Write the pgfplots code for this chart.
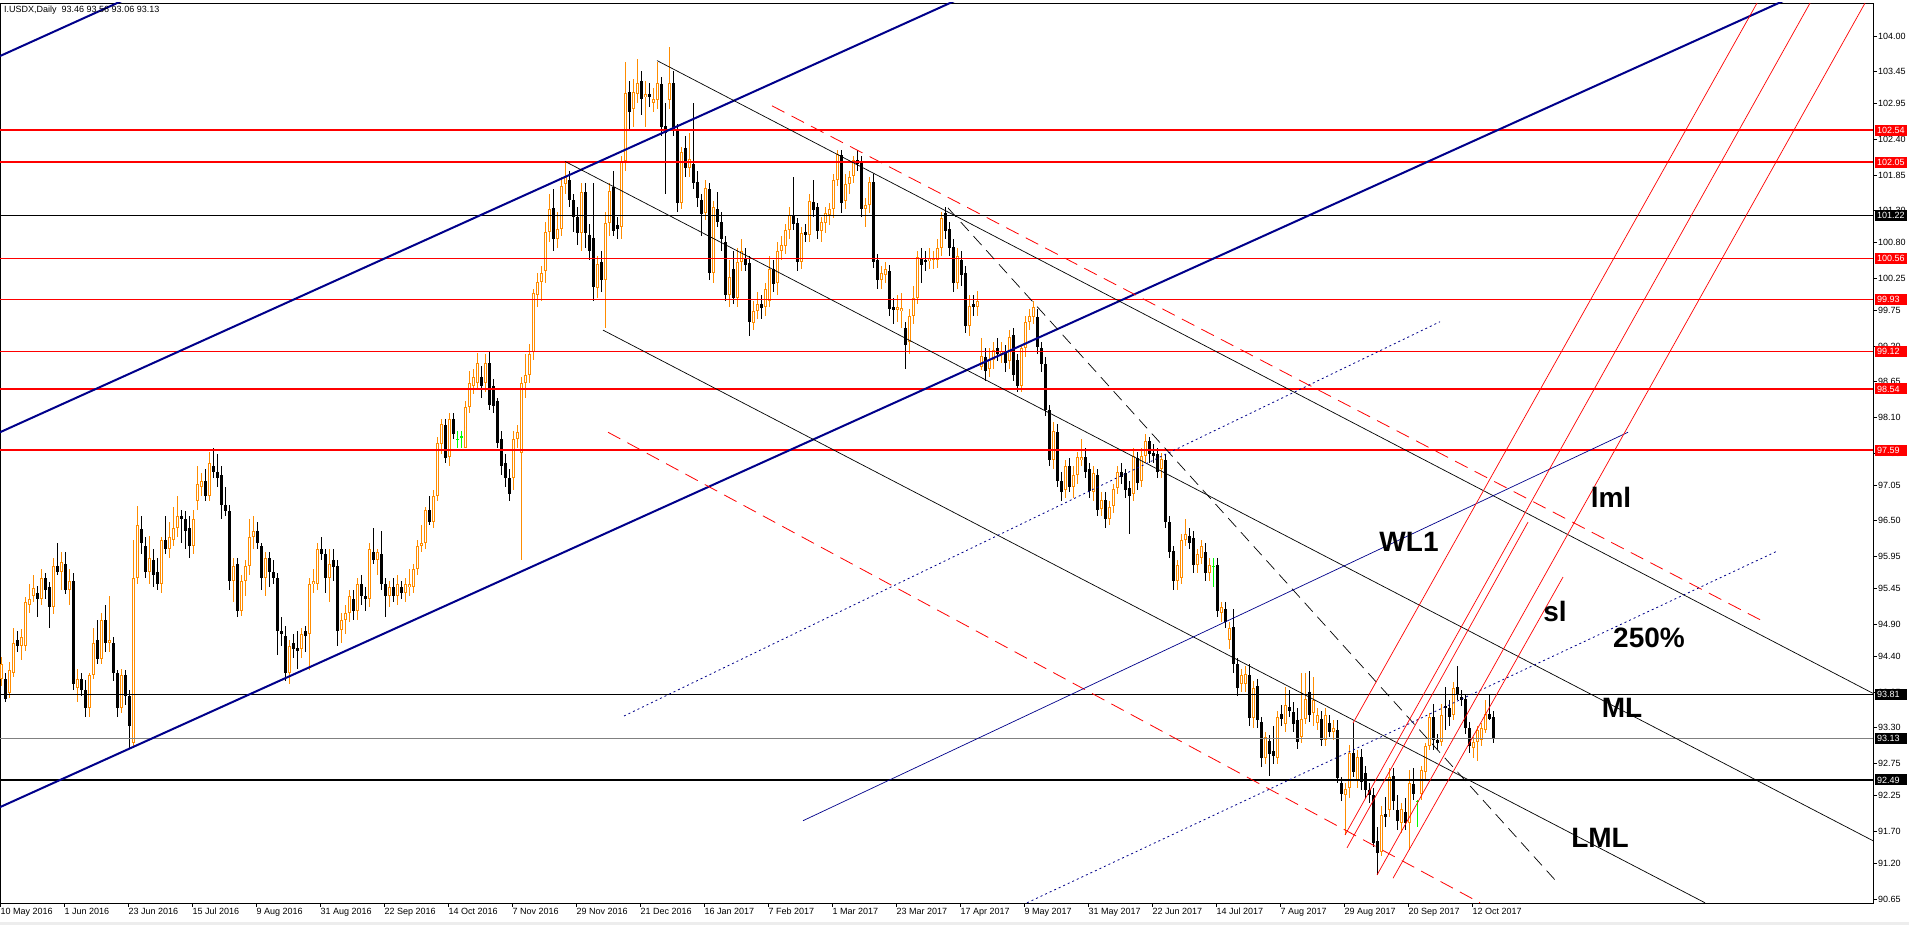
\documentclass[border=0pt]{standalone}
\usepackage{fontspec}
\setmainfont{Liberation Sans}
\usepackage{pgfplots}
\usepackage{pgfplotstable}
\pgfplotsset{compat=1.18}
\definecolor{up}{HTML}{FF8C00}
\definecolor{navy}{HTML}{00008B}
\definecolor{doji}{HTML}{00FF00}
\definecolor{curgray}{HTML}{808080}

\pgfplotstableread{
i o h l c
0 94.06 94.40 93.95 94.29
1 94.06 94.15 93.69 93.74
2 93.83 94.31 93.76 94.20
3 94.15 94.84 94.08 94.61
4 94.66 94.79 94.47 94.56
5 94.56 94.83 94.35 94.70
6 94.56 95.32 94.49 95.25
7 95.20 95.52 95.08 95.29
8 95.34 95.66 95.25 95.46
9 95.38 95.50 95.02 95.29
10 95.29 95.75 95.20 95.61
11 95.61 95.70 95.29 95.43
12 95.47 95.55 94.84 95.16
13 95.16 95.93 95.06 95.80
14 95.80 96.16 95.66 95.71
15 95.71 96.02 95.43 95.87
16 95.84 96.02 95.36 95.43
17 95.43 95.75 95.20 95.57
18 95.57 95.70 93.88 93.97
19 93.92 94.20 93.70 94.06
20 94.06 94.15 93.79 93.88
21 93.88 94.03 93.47 93.61
22 93.61 94.15 93.47 94.11
23 94.11 94.84 94.06 94.61
24 94.66 94.97 94.29 94.36
25 94.36 95.07 94.29 94.97
26 94.97 95.20 94.47 94.61
27 94.61 95.34 94.47 94.66
28 94.61 94.70 94.02 94.15
29 94.15 94.20 93.47 93.61
30 93.61 94.20 93.52 94.11
31 94.11 94.20 93.65 93.79
32 93.79 93.88 92.98 93.33
33 93.06 96.20 92.98 95.61
34 95.61 96.73 95.52 96.43
35 96.38 96.57 95.98 96.16
36 96.11 96.25 95.61 95.71
37 95.71 96.27 95.52 95.93
38 95.89 96.07 95.47 95.66
39 95.71 95.93 95.43 95.52
40 95.52 96.25 95.38 96.20
41 96.20 96.57 95.98 96.07
42 96.07 96.48 95.93 96.25
43 96.20 96.71 96.11 96.39
44 96.39 96.89 96.25 96.57
45 96.57 96.66 96.16 96.53
46 96.53 96.66 96.07 96.34
47 96.39 96.57 95.93 96.11
48 96.11 96.66 95.98 96.53
49 96.80 97.35 96.66 97.07
50 97.03 97.24 96.89 97.12
51 97.12 97.30 96.80 96.89
52 96.89 97.57 96.80 97.39
53 97.35 97.62 97.16 97.26
54 97.26 97.53 97.03 97.16
55 97.21 97.35 96.53 96.75
56 96.75 97.03 96.57 96.66
57 96.66 96.75 95.43 95.57
58 95.57 95.93 95.25 95.80
59 95.84 95.93 95.02 95.11
60 95.11 95.66 95.02 95.57
61 95.57 95.89 95.34 95.80
62 95.80 96.53 95.66 96.25
63 96.25 96.57 96.07 96.34
64 96.34 96.48 96.07 96.16
65 96.11 96.16 95.43 95.61
66 95.61 96.02 95.34 95.93
67 95.93 96.02 95.47 95.71
68 95.71 95.89 95.52 95.61
69 95.61 95.70 94.43 94.79
70 94.79 95.02 94.56 94.75
71 94.72 94.88 94.02 94.15
72 94.15 94.65 93.98 94.56
73 94.61 94.75 94.38 94.52
74 94.54 94.79 94.20 94.49
75 94.52 94.84 94.38 94.75
76 94.79 94.88 94.47 94.72
77 94.75 95.61 94.20 95.52
78 95.52 95.75 95.38 95.57
79 95.52 96.16 95.43 96.07
80 96.07 96.25 95.89 95.98
81 95.98 96.07 95.38 95.61
82 95.61 96.07 95.25 95.84
83 95.89 96.07 95.57 95.78
84 95.80 95.89 94.56 94.79
85 94.81 95.07 94.61 94.97
86 94.97 95.20 94.75 95.07
87 95.07 95.43 94.93 95.34
88 95.29 95.43 94.97 95.11
89 95.11 95.61 94.97 95.52
90 95.52 95.66 95.20 95.34
91 95.34 95.47 95.11 95.29
92 95.29 96.16 95.16 96.07
93 96.02 96.39 95.84 95.89
94 95.89 96.07 95.66 96.02
95 95.98 96.34 95.43 95.52
96 95.52 95.61 95.02 95.34
97 95.34 95.57 95.16 95.48
98 95.48 95.61 95.25 95.34
99 95.34 95.66 95.20 95.52
100 95.48 95.57 95.29 95.38
101 95.38 95.61 95.25 95.52
102 95.48 95.75 95.34 95.52
103 95.48 95.84 95.38 95.75
104 95.75 96.20 95.66 96.11
105 96.11 96.43 96.02 96.16
106 96.16 96.71 96.07 96.66
107 96.66 96.89 96.43 96.48
108 96.48 96.98 96.39 96.89
109 96.89 97.80 96.80 97.71
110 97.69 98.08 97.53 98.00
111 97.99 98.08 97.39 97.48
112 97.48 98.17 97.35 98.08
113 98.08 98.17 97.76 97.85
114 97.76 97.89 97.62 97.76
115 97.80 97.89 97.62 97.80
116 97.62 98.35 97.62 98.26
117 98.26 98.81 98.17 98.63
118 98.58 98.85 98.47 98.72
119 98.63 99.10 98.53 98.94
120 98.72 98.90 98.40 98.58
121 98.63 99.08 98.49 98.94
122 98.94 99.11 98.21 98.30
123 98.58 98.70 98.17 98.28
124 98.35 98.40 97.62 97.71
125 97.76 97.89 97.21 97.35
126 97.39 97.53 97.03 97.16
127 97.16 97.30 96.80 96.91
128 97.16 97.89 96.98 97.76
129 97.76 97.99 97.62 97.88
130 97.55 98.72 95.89 98.63
131 98.63 99.08 98.40 98.75
132 98.76 99.24 98.63 99.08
133 99.11 100.08 98.99 100.02
134 100.00 100.34 99.81 100.19
135 100.19 100.45 99.90 100.34
136 100.36 101.13 100.18 100.97
137 100.97 101.55 100.81 101.32
138 101.34 101.64 100.68 100.86
139 100.86 101.27 100.72 101.02
140 101.02 101.82 100.91 101.68
141 101.71 102.06 101.55 101.82
142 101.77 101.91 101.36 101.47
143 101.47 101.55 100.97 101.20
144 101.20 101.36 100.77 100.95
145 100.95 101.73 100.68 101.59
146 101.59 101.73 100.72 100.95
147 100.93 101.09 100.54 100.68
148 100.87 101.73 99.90 100.11
149 100.11 100.59 99.95 100.48
150 100.50 100.68 100.04 100.22
151 100.22 101.27 99.49 101.11
152 101.11 101.73 100.91 101.61
153 101.66 101.91 100.91 100.99
154 101.07 101.20 100.86 101.02
155 101.04 102.14 100.86 102.06
156 102.06 103.60 101.91 103.12
157 103.14 103.30 102.55 102.82
158 102.87 103.33 102.59 103.14
159 103.10 103.64 102.96 103.28
160 103.30 103.46 102.78 103.02
161 103.05 103.30 102.59 103.10
162 103.10 103.28 102.91 103.05
163 102.96 103.19 102.82 103.02
164 103.01 103.60 102.87 103.28
165 103.26 103.37 102.46 102.59
166 102.61 102.96 101.55 102.50
167 103.01 103.83 102.87 103.28
168 103.28 103.46 102.46 102.55
169 102.55 102.64 101.27 101.41
170 101.41 102.28 101.32 102.20
171 102.27 102.46 101.82 101.96
172 101.96 102.50 101.82 102.09
173 102.02 102.96 101.64 101.73
174 101.75 101.91 101.36 101.50
175 101.47 101.55 100.91 101.25
176 101.27 101.77 101.16 101.65
177 101.64 101.73 100.22 100.34
178 100.34 101.45 100.18 101.36
179 101.33 101.59 101.04 101.13
180 101.12 101.27 100.68 100.86
181 100.81 100.91 99.90 99.99
182 99.99 100.54 99.81 100.27
183 100.40 100.68 99.86 99.95
184 99.95 100.72 99.81 100.50
185 100.50 100.86 100.36 100.68
186 100.57 100.72 100.36 100.45
187 100.49 100.59 99.36 99.58
188 99.56 99.90 99.45 99.74
189 99.74 100.04 99.63 99.85
190 99.85 100.00 99.63 99.79
191 99.81 100.18 99.67 100.08
192 99.90 100.59 99.81 100.40
193 100.40 100.54 100.04 100.16
194 100.18 100.82 99.99 100.68
195 100.68 100.91 100.54 100.77
196 100.76 101.09 100.63 101.00
197 101.00 101.36 100.86 101.23
198 101.23 101.82 101.00 101.09
199 101.11 101.18 100.36 100.50
200 100.50 101.04 100.40 100.95
201 100.97 101.09 100.81 100.92
202 100.92 101.55 100.82 101.45
203 101.43 101.77 101.20 101.31
204 101.36 101.41 100.86 100.98
205 100.98 101.20 100.82 101.13
206 101.11 101.36 100.95 101.27
207 101.23 101.41 101.07 101.32
208 101.32 101.86 101.18 101.77
209 101.77 102.23 101.68 102.17
210 102.16 102.23 101.27 101.41
211 101.45 101.86 101.32 101.71
212 101.71 101.91 101.55 101.82
213 101.84 102.14 101.73 102.09
214 102.08 102.23 101.91 102.02
215 102.05 102.14 101.20 101.32
216 101.32 101.50 101.04 101.38
217 101.38 101.82 101.27 101.75
218 101.75 101.86 100.41 100.51
219 100.54 100.63 100.09 100.22
220 100.22 100.45 100.09 100.34
221 100.31 100.50 100.18 100.40
222 100.36 100.45 99.67 99.78
223 99.81 99.95 99.54 99.76
224 99.76 99.99 99.58 99.81
225 99.74 100.02 99.49 99.79
226 99.49 99.58 98.85 99.22
227 99.26 99.77 99.08 99.67
228 99.67 100.13 99.54 99.95
229 99.95 100.68 99.86 100.58
230 100.57 100.72 100.18 100.45
231 100.54 100.68 100.36 100.51
232 100.52 100.72 100.40 100.56
233 100.54 100.68 100.40 100.56
234 100.54 100.86 100.41 100.72
235 100.72 101.27 100.59 101.18
236 101.27 101.36 100.86 100.99
237 101.01 101.13 100.59 100.72
238 100.74 100.86 100.04 100.18
239 100.18 100.72 100.09 100.59
240 100.54 100.68 100.13 100.31
241 100.33 100.45 99.40 99.51
242 99.51 99.99 99.36 99.83
243 99.86 99.99 99.67 99.81
244 99.81 100.06 99.67 99.90
245 98.88 99.33 98.83 99.05
246 99.03 99.17 98.67 98.81
247 98.85 99.17 98.72 98.99
248 98.99 99.26 98.85 99.15
249 99.17 99.33 98.97 99.08
250 99.08 99.26 98.94 99.13
251 99.11 99.22 98.81 98.94
252 98.97 99.45 98.85 99.35
253 99.37 99.49 98.67 98.76
254 98.99 99.08 98.49 98.58
255 98.58 99.22 98.49 99.17
256 99.17 99.67 99.04 99.58
257 99.58 99.77 99.45 99.67
258 99.65 99.90 99.54 99.81
259 99.66 99.77 99.08 99.19
260 99.17 99.26 98.81 98.92
261 98.92 99.04 98.12 98.21
262 98.21 98.30 97.35 97.44
263 97.44 98.03 97.30 97.89
264 97.88 97.99 97.03 97.12
265 97.12 97.26 96.80 96.94
266 96.98 97.44 96.85 97.35
267 97.35 97.48 96.94 97.03
268 97.03 97.35 96.85 97.21
269 97.21 97.57 97.07 97.48
270 97.44 97.76 97.35 97.48
271 97.48 97.62 97.16 97.26
272 97.30 97.39 96.85 96.96
273 96.94 97.35 96.80 97.24
274 97.21 97.30 96.57 96.66
275 96.69 96.94 96.57 96.82
276 96.82 96.94 96.39 96.53
277 96.53 96.80 96.43 96.71
278 96.73 97.07 96.62 97.00
279 97.00 97.35 96.91 97.26
280 97.26 97.39 97.07 97.18
281 97.24 97.30 96.85 96.98
282 97.01 97.12 96.30 96.89
283 96.91 97.62 96.80 97.51
284 97.47 97.57 96.98 97.09
285 97.12 97.62 97.03 97.51
286 97.51 97.85 97.39 97.73
287 97.73 97.80 97.39 97.53
288 97.55 97.69 97.39 97.51
289 97.53 97.62 97.16 97.26
290 97.30 97.55 97.16 97.46
291 97.44 97.53 96.39 96.48
292 96.48 96.57 95.93 96.02
293 96.04 96.11 95.43 95.57
294 95.57 95.89 95.43 95.81
295 95.61 96.30 95.52 96.21
296 96.21 96.53 96.11 96.30
297 96.27 96.39 96.07 96.16
298 96.23 96.34 95.70 95.81
299 95.81 96.07 95.70 95.98
300 95.93 96.20 95.84 96.11
301 96.02 96.16 95.57 95.69
302 95.69 95.93 95.57 95.81
303 95.80 95.93 95.47 95.80
304 95.81 95.93 95.02 95.11
305 95.08 95.25 94.93 95.17
306 95.13 95.25 94.84 94.93
307 94.65 94.93 94.52 94.84
308 94.86 95.13 94.15 94.29
309 94.29 94.38 93.79 93.92
310 93.97 94.20 93.85 94.12
311 93.97 94.25 93.85 94.13
312 94.12 94.29 93.33 93.45
313 93.45 94.02 93.29 93.92
314 93.95 94.06 93.29 93.42
315 93.38 93.47 92.69 92.83
316 92.83 93.24 92.74 93.15
317 93.10 93.19 92.56 92.89
318 92.94 93.33 92.74 92.86
319 92.83 93.56 92.74 93.47
320 93.51 93.65 93.33 93.44
321 93.35 93.93 93.24 93.65
322 93.62 93.88 93.47 93.56
323 93.54 93.70 93.24 93.35
324 93.42 93.61 92.97 93.08
325 93.16 94.14 93.06 93.43
326 93.44 94.14 93.36 93.75
327 93.85 94.17 93.39 93.49
328 93.52 94.09 93.32 93.73
329 93.37 93.60 93.26 93.50
330 93.44 93.55 93.01 93.11
331 93.11 93.60 93.01 93.50
332 93.37 93.50 93.16 93.24
333 93.24 93.42 93.11 93.29
334 93.26 93.42 92.44 92.52
335 92.44 92.54 92.16 92.28
336 92.26 92.44 91.64 92.35
337 92.36 93.03 92.21 92.91
338 92.91 93.37 92.54 92.62
339 92.49 92.95 92.36 92.84
340 92.85 92.97 92.34 92.46
341 92.60 92.70 92.21 92.34
342 92.34 92.44 92.13 92.26
343 92.26 92.36 91.46 91.51
344 91.54 91.77 91.02 91.36
345 91.38 92.08 91.31 91.95
346 91.96 92.23 91.77 91.92
347 92.03 92.67 91.92 92.54
348 92.55 92.67 92.03 92.17
349 92.03 92.26 91.72 91.85
350 91.82 92.13 91.67 92.04
351 92.00 92.21 91.72 91.82
352 91.82 92.64 91.41 92.44
353 92.43 92.67 92.18 92.28
354 92.16 92.18 91.77 92.16
355 92.28 92.70 92.18 92.64
356 92.62 93.06 92.49 93.01
357 93.01 93.52 92.95 93.47
358 93.47 93.67 92.95 93.11
359 93.11 93.21 92.95 93.07
360 93.08 93.67 93.01 93.50
361 93.63 93.93 93.26 93.61
362 93.60 93.73 93.32 93.46
363 93.50 94.01 93.42 93.91
364 93.93 94.25 93.73 93.81
365 93.78 93.88 93.63 93.73
366 93.74 93.80 93.21 93.29
367 93.29 93.39 92.91 93.01
368 92.98 93.16 92.83 93.08
369 93.08 93.32 92.78 93.26
370 93.11 93.37 93.01 93.29
371 93.27 93.73 93.21 93.51
372 93.51 93.80 93.42 93.44
373 93.46 93.56 93.06 93.13
}\candles

\pgfplotsset{
  cndl/.style={forget plot, only marks, mark=none, mark size=0pt,
    error bars/y dir=both, error bars/y explicit, error bars/error mark=none,
    error bars/error bar style={#1}},
  bull/.style={restrict expr to domain={\thisrow{c}-\thisrow{o}}{0.001:100}},
  bullin/.style={restrict expr to domain={\thisrow{c}-\thisrow{o}}{0.034:100}},
  bear/.style={restrict expr to domain={\thisrow{o}-\thisrow{c}}{0.001:100}},
  dojif/.style={restrict expr to domain={abs(\thisrow{c}-\thisrow{o})}{0:0.0009}},
}
\tikzset{
  box/.style={fill=#1, text=white, anchor=west, inner xsep=2bp, inner ysep=0pt,
    minimum height=11bp, text width=28bp, align=left,
    font=\fontsize{9bp}{10bp}\selectfont},
  lbl/.style={font=\fontsize{28bp}{30bp}\selectfont\bfseries, inner sep=0pt},
}

\begin{document}
\begin{tikzpicture}
\fill[white] (0,-22bp) rectangle (1909bp,903bp);
\fill[black!7] (0,-22bp) rectangle (1909bp,-19bp);
\useasboundingbox (0,-22bp) rectangle (1909bp,903bp);
\begin{axis}[at={(0,0)}, anchor=south west, scale only axis,
  width=1873bp, height=900bp,
  xmin=0, xmax=1873, ymin=90.587, ymax=104.511,
  clip mode=individual,
  axis line style={line width=0.8bp},
  tick style={line width=0.8bp, black},
  tick align=outside, major tick length=4bp,
  xtick pos=left, ytick pos=right,
  xticklabel pos=left, yticklabel pos=right,
  xtick={0,64,...,1472},
  xticklabels={10 May 2016,1 Jun 2016,23 Jun 2016,15 Jul 2016,9 Aug 2016,31 Aug 2016,22 Sep 2016,14 Oct 2016,7 Nov 2016,29 Nov 2016,21 Dec 2016,16 Jan 2017,7 Feb 2017,1 Mar 2017,23 Mar 2017,17 Apr 2017,9 May 2017,31 May 2017,22 Jun 2017,14 Jul 2017,7 Aug 2017,29 Aug 2017,20 Sep 2017,12 Oct 2017},
  xticklabel style={font=\fontsize{9bp}{10bp}\selectfont, anchor=north west, inner sep=0pt, xshift=0.5bp, yshift=-1bp},
  ytick={90.65,91.20,91.70,92.25,92.75,93.30,93.85,94.40,94.90,95.45,95.95,96.50,97.05,97.55,98.10,98.65,99.20,99.75,100.25,100.80,101.30,101.85,102.40,102.95,103.45,104.00},
  yticklabels={90.65,91.20,91.70,92.25,92.75,93.30,93.85,94.40,94.90,95.45,95.95,96.50,97.05,97.55,98.10,98.65,99.20,99.75,100.25,100.80,101.30,101.85,102.40,102.95,103.45,104.00},
  yticklabel style={font=\fontsize{9bp}{10bp}\selectfont, anchor=west, inner sep=0pt, xshift=1bp},
]
% ---- candles: wicks ----
\addplot[cndl={draw=up, line width=1bp}, bull] table[x expr=4*\thisrow{i}+1, y expr=(\thisrow{h}+\thisrow{l})/2, y error expr=(\thisrow{h}-\thisrow{l})/2] {\candles};
\addplot[cndl={draw=black, line width=1bp}, bear] table[x expr=4*\thisrow{i}+1, y expr=(\thisrow{h}+\thisrow{l})/2, y error expr=(\thisrow{h}-\thisrow{l})/2] {\candles};
\addplot[cndl={draw=doji, line width=1bp}, dojif] table[x expr=4*\thisrow{i}+1, y expr=(\thisrow{h}+\thisrow{l})/2, y error expr=(\thisrow{h}-\thisrow{l})/2] {\candles};
% ---- candles: bodies ----
\addplot[cndl={draw=up, line width=3bp}, bull] table[x expr=4*\thisrow{i}+1, y expr=(\thisrow{o}+\thisrow{c})/2, y error expr=(\thisrow{c}-\thisrow{o})/2] {\candles};
\addplot[cndl={draw=white, line width=1bp}, bullin] table[x expr=4*\thisrow{i}+1, y expr=(\thisrow{o}+\thisrow{c})/2, y error expr=(\thisrow{c}-\thisrow{o})/2-0.0155] {\candles};
\addplot[cndl={draw=black, line width=3bp}, bear] table[x expr=4*\thisrow{i}+1, y expr=(\thisrow{o}+\thisrow{c})/2, y error expr=(\thisrow{o}-\thisrow{c})/2] {\candles};
\addplot[cndl={draw=doji, line width=3bp}, dojif] table[x expr=4*\thisrow{i}+1, y expr=\thisrow{c}, y error expr=0.008] {\candles};

% ---- horizontal levels ----
\addplot[red, line width=2bp] coordinates {(0,102.54) (1873,102.54)};
\addplot[red, line width=2bp] coordinates {(0,102.05) (1873,102.05)};
\addplot[black, line width=0.8bp] coordinates {(0,101.22) (1873,101.22)};
\addplot[red, line width=0.9bp] coordinates {(0,100.56) (1873,100.56)};
\addplot[red, line width=0.9bp] coordinates {(0,99.93) (1873,99.93)};
\addplot[red, line width=0.9bp] coordinates {(0,99.12) (1873,99.12)};
\addplot[red, line width=2bp] coordinates {(0,98.54) (1873,98.54)};
\addplot[red, line width=2bp] coordinates {(0,97.59) (1873,97.59)};
\addplot[black, line width=0.8bp] coordinates {(0,93.81) (1873,93.81)};
\addplot[curgray, line width=0.8bp] coordinates {(0,93.13) (1873,93.13)};
\addplot[black, line width=2bp] coordinates {(0,92.49) (1873,92.49)};

% ---- thick navy channel ----
\addplot[navy, line width=2bp] coordinates {(0,103.69) (200,105.09)};
\addplot[navy, line width=2bp] coordinates {(0,97.87) (1000,104.86)};
\addplot[navy, line width=2bp] coordinates {(0,92.07) (1873,105.17)};

% ---- black pitchfork lines ----
\addplot[black, line width=0.7bp] coordinates {(657,103.62) (1873,93.83)};
\addplot[black, line width=0.7bp] coordinates {(565,102.06) (1873,91.55)};
\addplot[black, line width=0.7bp] coordinates {(603,99.45) (1705,90.59)};
\addplot[black, line width=0.7bp, dash pattern=on 12bp off 7bp] coordinates {(948,101.34) (1557,90.91)};

% ---- red dashed ----
\addplot[red, line width=0.8bp, dash pattern=on 14bp off 8bp] coordinates {(772,102.92) (1760,94.97)};
\addplot[red, line width=0.8bp, dash pattern=on 14bp off 8bp] coordinates {(608,97.87) (1480,90.59)};

% ---- navy dotted and thin ----
\addplot[navy, line width=0.8bp, dash pattern=on 2bp off 3bp] coordinates {(624,93.48) (1440,99.58)};
\addplot[navy, line width=0.8bp, dash pattern=on 2bp off 3bp] coordinates {(1027,90.59) (1777,96.03)};
\addplot[navy, line width=0.7bp] coordinates {(803,91.86) (1628,97.87)};

% ---- red steep lines ----
\addplot[red, line width=0.7bp] coordinates {(1353,93.37) (1757,104.51)};
\addplot[red, line width=0.7bp] coordinates {(1345,91.64) (1810,104.51)};
\addplot[red, line width=0.7bp] coordinates {(1347,91.44) (1528,96.48)};
\addplot[red, line width=0.7bp] coordinates {(1377,91.02) (1865,104.51)};
\addplot[red, line width=0.7bp] coordinates {(1393,90.97) (1563,95.63)};

% ---- texts ----
\node[anchor=west, inner sep=0pt, font=\fontsize{9bp}{10bp}\selectfont] at (axis cs:4,104.40) {I.USDX,Daily\ \ 93.46 93.56 93.06 93.13};
\node[lbl] at (axis cs:1409,96.17) {WL1};
\node[lbl] at (axis cs:1611,96.87) {lml};
\node[lbl] at (axis cs:1555,95.09) {sl};
\node[lbl] at (axis cs:1649,94.69) {250\%};
\node[lbl] at (axis cs:1622,93.60) {ML};
\node[lbl] at (axis cs:1600,91.59) {LML};

% ---- price boxes ----
\node[box=red] at (axis cs:1875,102.54) {102.54};
\node[box=red] at (axis cs:1875,102.05) {102.05};
\node[box=black] at (axis cs:1875,101.22) {101.22};
\node[box=red] at (axis cs:1875,100.56) {100.56};
\node[box=red] at (axis cs:1875,99.93) {99.93};
\node[box=red] at (axis cs:1875,99.12) {99.12};
\node[box=red] at (axis cs:1875,98.54) {98.54};
\node[box=red] at (axis cs:1875,97.59) {97.59};
\node[box=black] at (axis cs:1875,93.81) {93.81};
\node[box=black] at (axis cs:1875,93.13) {93.13};
\node[box=black] at (axis cs:1875,92.49) {92.49};
\end{axis}
\end{tikzpicture}
\end{document}
